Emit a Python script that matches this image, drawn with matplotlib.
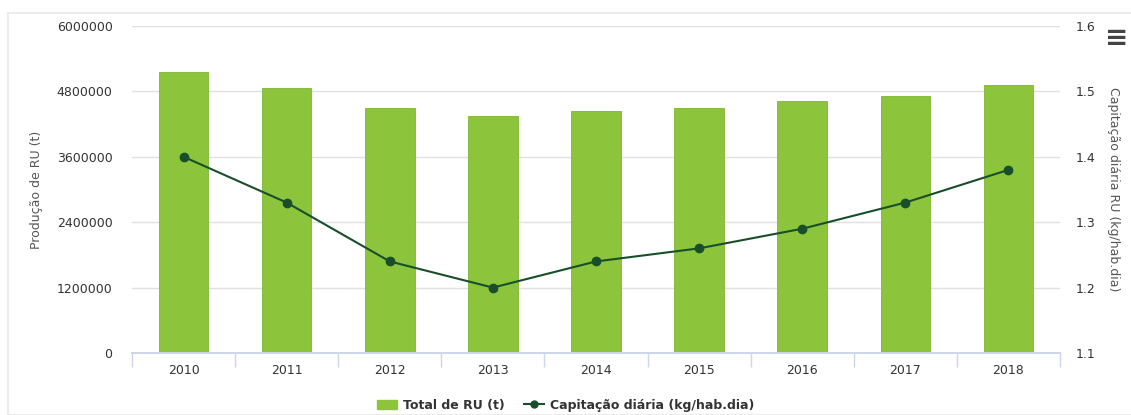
import numpy as np
import matplotlib.pyplot as plt
from matplotlib.lines import Line2D
from matplotlib.patches import Patch, Rectangle

years = ['2010', '2011', '2012', '2013', '2014', '2015', '2016', '2017', '2018']
total_ru = [5150000, 4860000, 4500000, 4350000, 4440000, 4500000, 4620000, 4710000, 4910000]
capitacao = [1.40, 1.33, 1.24, 1.20, 1.24, 1.26, 1.29, 1.33, 1.38]

bar_color = '#8cc43c'
line_color = '#184f2a'
text_color = '#333333'

fig = plt.figure(figsize=(11.31, 4.15), dpi=100)
ax = fig.add_axes([132/1131, 1-353/415, (1060-132)/1131, (353-26)/415])
ax2 = ax.twinx()

x = np.arange(len(years))
ax.bar(x, total_ru, width=0.48, color=bar_color, edgecolor='#7fb534', linewidth=0.6, zorder=2)
ax2.plot(x, capitacao, color=line_color, lw=1.5, marker='o', ms=6, zorder=3)

ax.set_xlim(-0.5, len(years) - 0.5)
ax.set_ylim(0, 6000000)
ax.set_yticks(np.arange(0, 6000001, 1200000))
ax.set_yticklabels([str(v) for v in range(0, 6000001, 1200000)])
ax2.set_ylim(1.1, 1.6)
ax2.set_yticks([1.1, 1.2, 1.3, 1.4, 1.5, 1.6])
ax2.set_yticklabels(['1.1', '1.2', '1.3', '1.4', '1.5', '1.6'])

ax.set_xticks(x)
ax.set_xticklabels(years)
ax.set_xticks(np.arange(-0.5, len(years)), minor=True)
ax.tick_params(axis='x', which='major', length=0, pad=8, labelsize=9, colors=text_color)
ax.tick_params(axis='x', which='minor', length=10, width=1, color='#ccd6eb')
ax.tick_params(axis='y', length=0, pad=14, labelsize=9, colors=text_color)
ax2.tick_params(axis='y', length=0, pad=11, labelsize=9, colors=text_color)

ax.grid(axis='y', color='#e0e0e0', lw=1, zorder=0)
ax.set_axisbelow(True)
for a in (ax, ax2):
    for s in ('top', 'left', 'right'):
        a.spines[s].set_visible(False)
    a.spines['bottom'].set_color('#ccd6eb')
    a.spines['bottom'].set_linewidth(1.2)

ax.set_ylabel('Produção de RU (t)', fontsize=9, color='#555555', labelpad=10)
ax2.set_ylabel('Capitação diária RU (kg/hab.dia)', fontsize=9, color='#555555',
               rotation=270, labelpad=18)

handles = [Patch(facecolor=bar_color, edgecolor=bar_color, label='Total de RU (t)'),
           Line2D([0], [0], color=line_color, lw=1.5, marker='o', ms=5,
                  label='Capitação diária (kg/hab.dia)')]
fig.legend(handles=handles, loc='center', bbox_to_anchor=(0.5, 1-405/415), ncol=2,
           frameon=False, prop={'weight': 'bold', 'size': 9}, handlelength=1.6,
           columnspacing=1.5, handletextpad=0.5, labelcolor=text_color)

fig.patches.append(Rectangle((8/1131, 0), 1, 1-13/415, transform=fig.transFigure,
                             fill=False, edgecolor='#ececec', lw=1.5))
fig.text(1117/1131, 1-38/415, '≡', fontsize=20, fontweight='bold', color='#444444',
         ha='center', va='center')

fig.savefig('out.png', dpi=100)
